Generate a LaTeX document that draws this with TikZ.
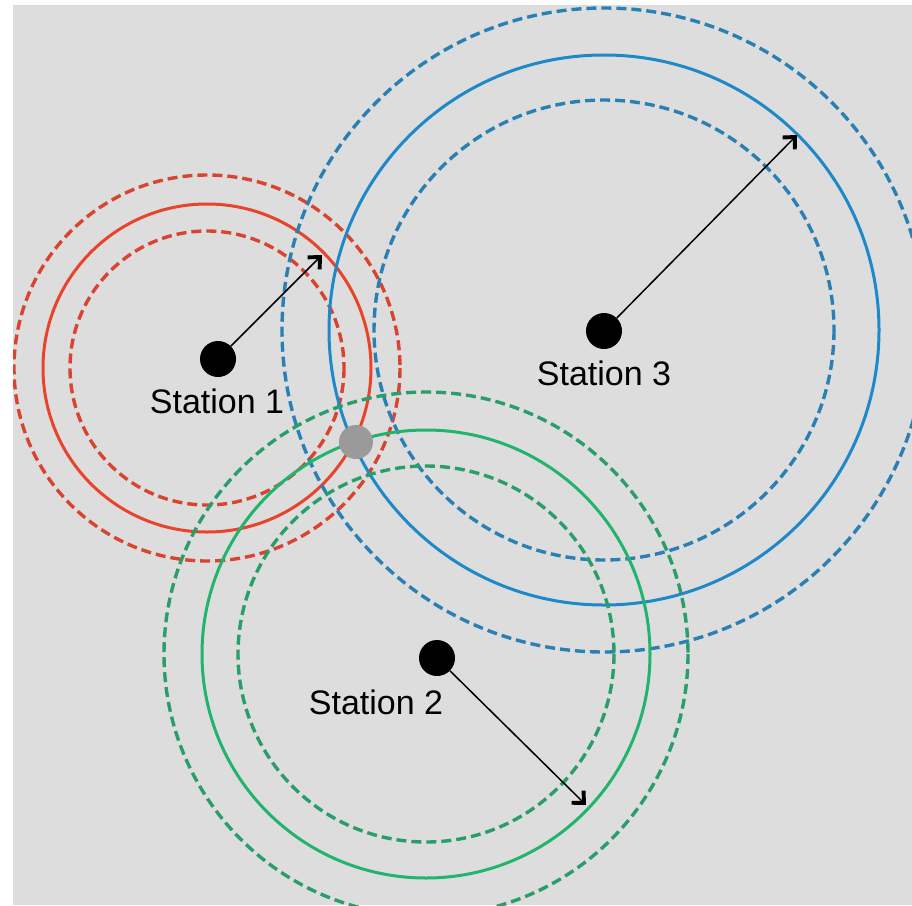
\documentclass[tikz,border=0pt]{standalone}
\usepackage{fontspec}
\setmainfont{Liberation Sans}
\usetikzlibrary{arrows.meta}
\definecolor{bggray}{HTML}{DDDDDD}
\definecolor{redc}{HTML}{E8442C}
\definecolor{redd}{HTML}{D8442F}
\definecolor{bluec}{HTML}{1E88C8}
\definecolor{blued}{HTML}{2A80B4}
\definecolor{greenc}{HTML}{22B46C}
\definecolor{greend}{HTML}{2A9E6A}
\definecolor{hitgray}{HTML}{9A9A9A}
\tikzset{
  ring/.style={line width=3pt},
  dashring/.style={line width=3.4pt, dash pattern=on 10pt off 5pt},
  station/.style={circle, fill=black, inner sep=0pt, minimum size=36pt},
  hit/.style={circle, fill=hitgray, inner sep=0pt, minimum size=34pt},
  label/.style={font=\fontsize{34}{40}\selectfont, anchor=base, inner sep=0pt},
  radius arrow/.style={line width=1.5pt, -{Straight Barb[length=9pt,width=17pt,line width=0pt 2.6]}}
}
\begin{document}
\begin{tikzpicture}[x=1pt, y=-1pt]
  \useasboundingbox (0,0) rectangle (912,905);
  \fill[white] (0,0) rectangle (912,905);
  \fill[bggray] (13,5) rectangle (912,905);
  \begin{scope}
    \clip (13,5) rectangle (912,905);
    % Station 1 range rings
    \draw[dashring, redd] (207,368) circle[radius=193];
    \draw[ring, redc] (207,368) circle[radius=164];
    \draw[dashring, redd] (207,368) circle[radius=137];
    % Station 3 range rings
    \draw[dashring, blued] (604,330) circle[radius=322];
    \draw[ring, bluec] (604,330) circle[radius=275];
    \draw[dashring, blued] (604,330) circle[radius=230];
    % Station 2 range rings
    \draw[dashring, greend] (426,654) circle[radius=262];
    \draw[ring, greenc] (426,654) circle[radius=224];
    \draw[dashring, greend] (426,654) circle[radius=188];
  \end{scope}
  % stations and the common fix
  \node[station] (s1) at (218,359) {};
  \node[station] (s3) at (604,331) {};
  \node[station] (s2) at (437,658) {};
  \node[hit] (fix) at (356,442) {};
  % radius arrows
  \coordinate (t1) at (322,255);
  \coordinate (t3) at (797,135);
  \coordinate (t2) at (586,805);
  \draw[radius arrow] (s1) -- (t1);
  \draw[radius arrow] (s3) -- (t3);
  \draw[radius arrow] (s2) -- (t2);
  % labels
  \node[label] (l1) at (217,413) {Station 1};
  \node[label] (l3) at (604,385) {Station 3};
  \node[label] (l2) at (376,714) {Station 2};
\end{tikzpicture}
\end{document}
